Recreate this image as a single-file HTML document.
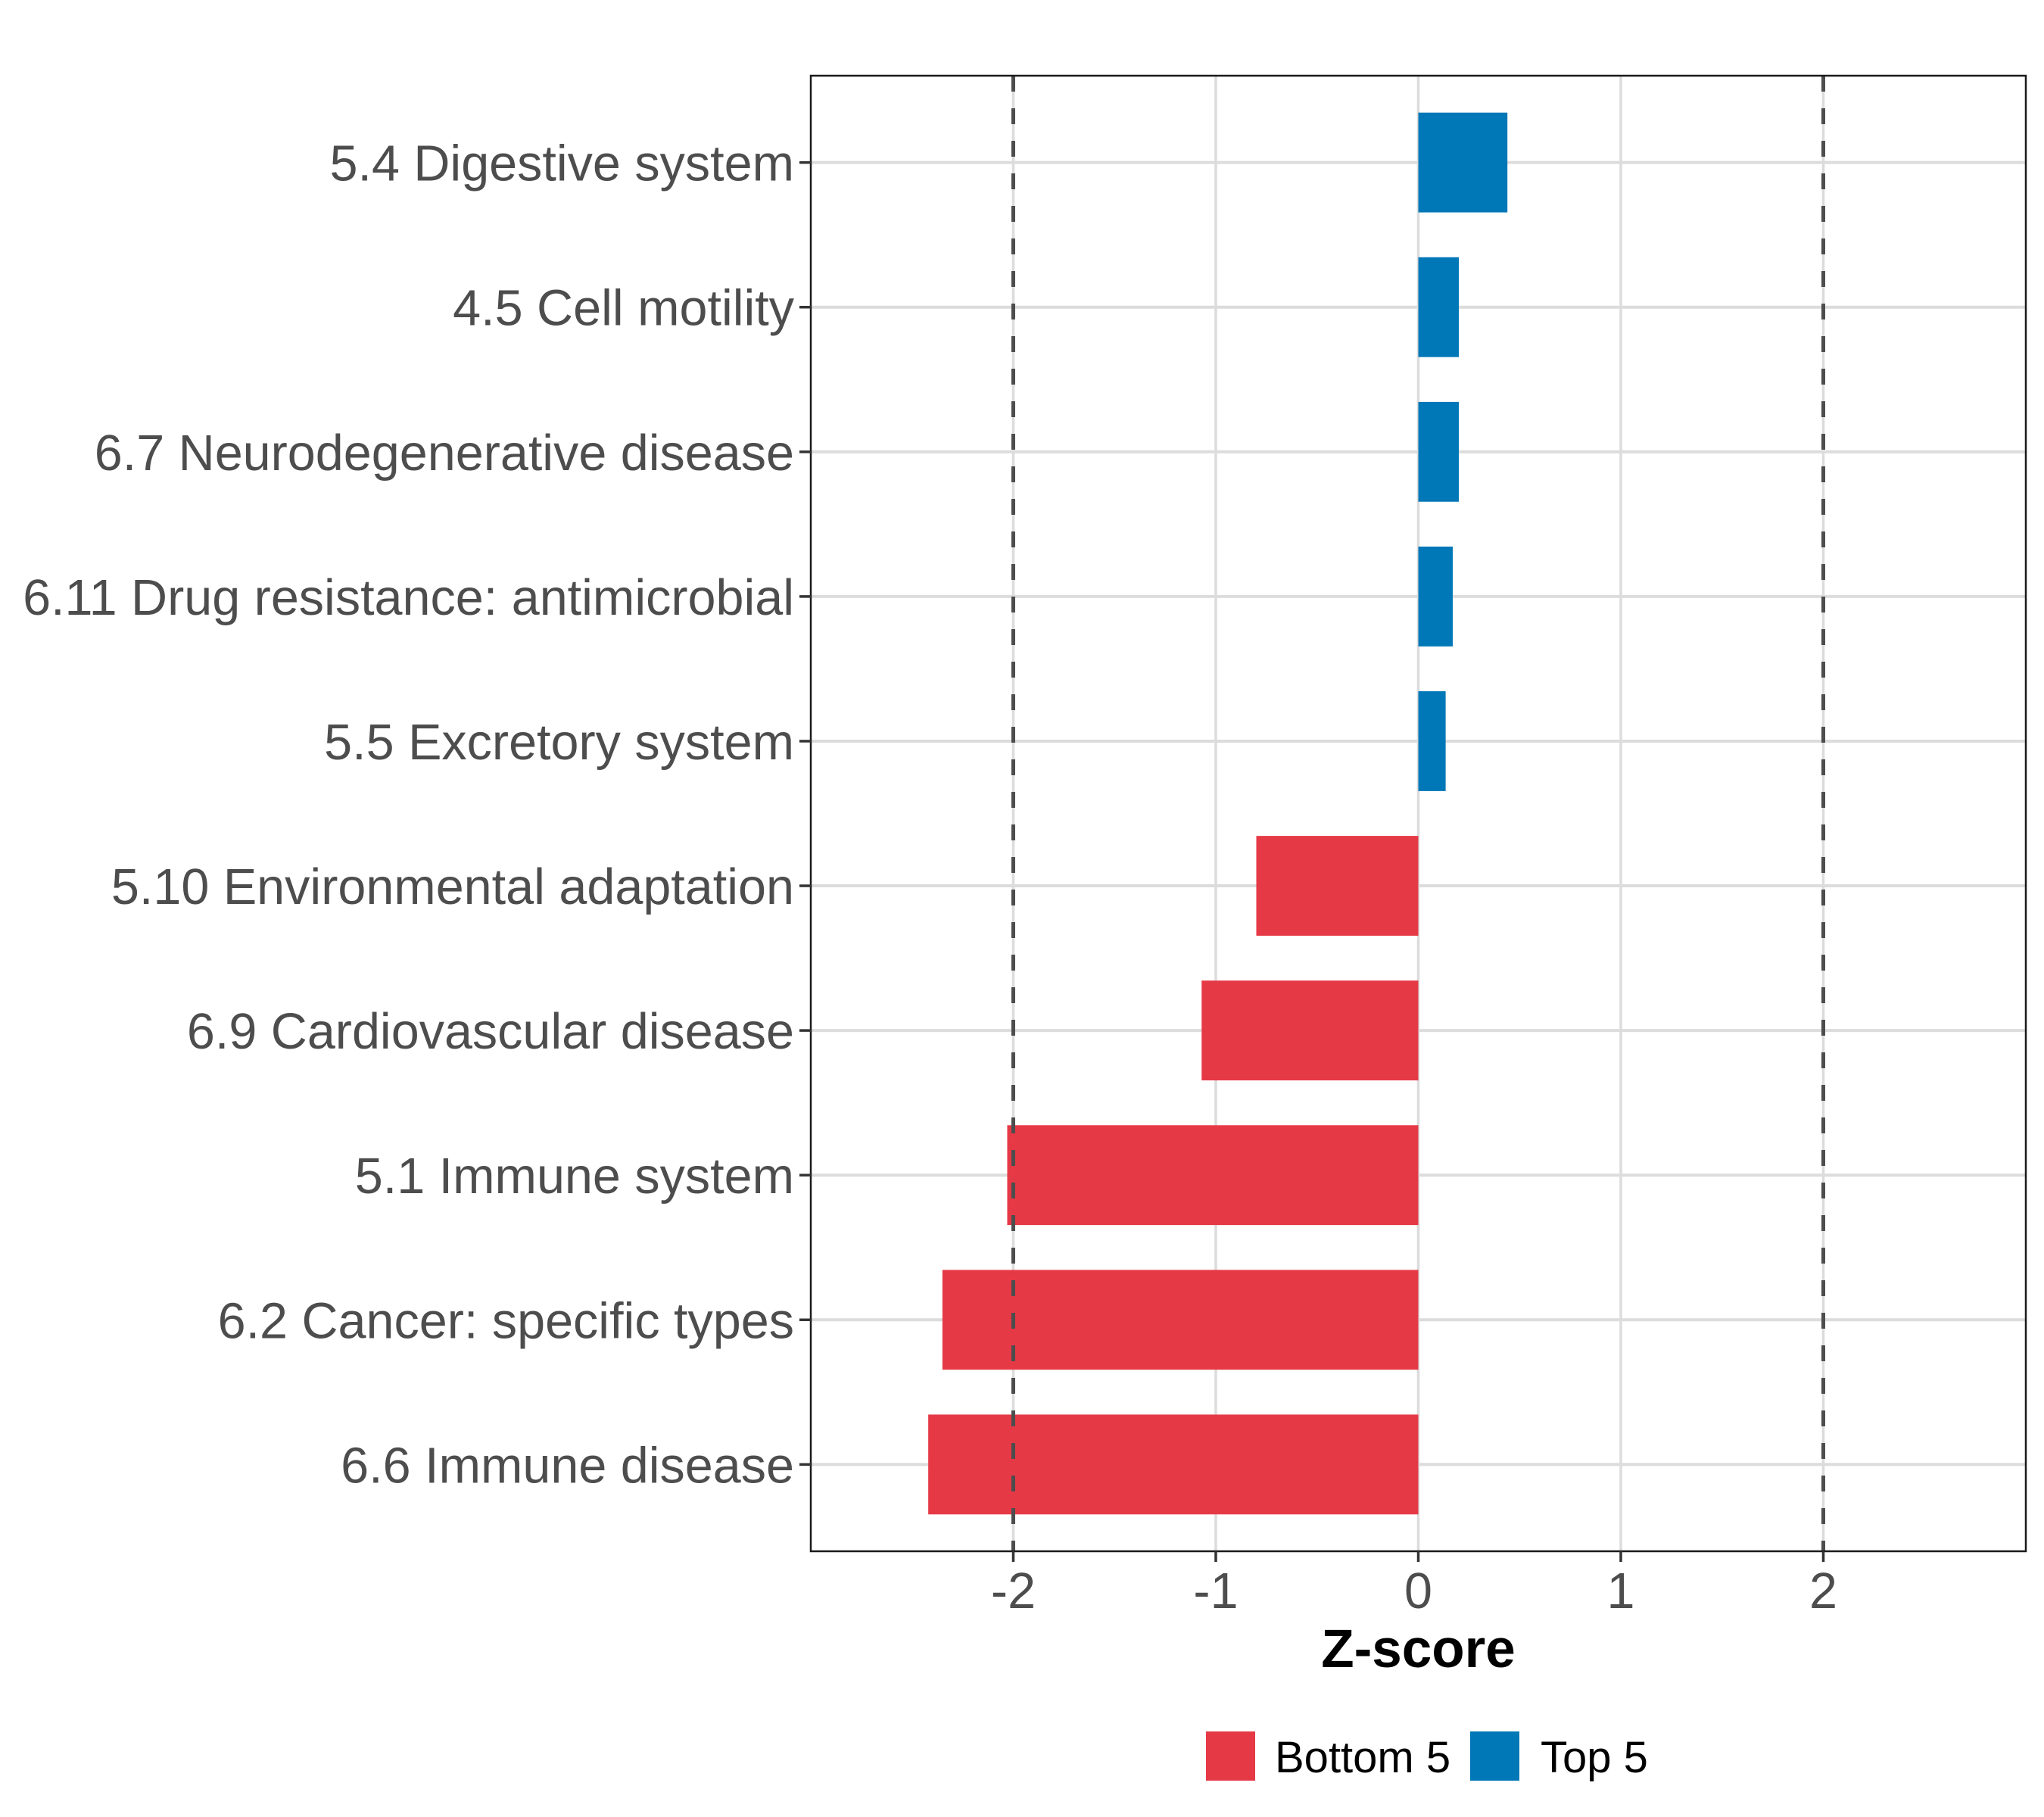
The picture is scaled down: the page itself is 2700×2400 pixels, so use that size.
<!DOCTYPE html>
<html><head><meta charset="utf-8"><style>
html,body{margin:0;padding:0;background:#fff;}
svg{display:block;font-family:"Liberation Sans",Arial,sans-serif;}
</style></head><body>
<svg id="chart" width="2700" height="2400" viewBox="0 0 2700 2400" xmlns="http://www.w3.org/2000/svg">
<rect x="0" y="0" width="2700" height="2400" fill="#fff"/>
<g id="grid"></g>
<g id="bars"></g>
<g id="refs"></g>
<g id="axes"></g>
</svg>
<script>
const categories = ["5.4 Digestive system","4.5 Cell motility","6.7 Neurodegenerative disease","6.11 Drug resistance: antimicrobial","5.5 Excretory system","5.10 Environmental adaptation","6.9 Cardiovascular disease","5.1 Immune system","6.2 Cancer: specific types","6.6 Immune disease"];
const values = [0.44,0.20,0.20,0.17,0.135,-0.80,-1.07,-2.03,-2.35,-2.42];
const groups = ["Top 5","Top 5","Top 5","Top 5","Top 5","Bottom 5","Bottom 5","Bottom 5","Bottom 5","Bottom 5"];
const xTicks = [-2,-1,0,1,2];
const refLines = [-2,2];
const legendLabels = ["Bottom 5","Top 5"];
const colors = {"Bottom 5":"#E63946","Top 5":"#0077B6"};

const NS="http://www.w3.org/2000/svg";
const L=1071,R=2676,T=100,B=2049;
const xMin=-3,xMax=3;
const xs=v=>L+(v-xMin)/(xMax-xMin)*(R-L);
const n=categories.length;
const step=(B-T)/(n-1+1.2);
const ys=i=>T+step*(0.6+i);
function mk(tag,attrs,parent){const e=document.createElementNS(NS,tag);for(const k in attrs)e.setAttribute(k,attrs[k]);parent.appendChild(e);return e;}
const grid=document.getElementById('grid'),bars=document.getElementById('bars'),refs=document.getElementById('refs'),axes=document.getElementById('axes');

xTicks.forEach(t=>{
  const g=mk('line',{x1:xs(t),x2:xs(t),y1:T,y2:B,stroke:'#dcdcdc','stroke-width':3.5},grid);
  
  
});
categories.forEach((c,i)=>{
  const g=mk('line',{x1:L,x2:R,y1:ys(i),y2:ys(i),stroke:'#dcdcdc','stroke-width':4},grid);
  
  
});
const bh=step*0.69;
values.forEach((v,i)=>{
  const x0=xs(Math.min(0,v)),x1=xs(Math.max(0,v));
  const r=mk('rect',{x:x0,y:ys(i)-bh/2,width:x1-x0,height:bh,fill:colors[groups[i]]},bars);
  
  
});
refLines.forEach(v=>{
  const l=mk('line',{x1:xs(v),x2:xs(v),y1:T,y2:B,stroke:'#4d4d4d','stroke-width':5,'stroke-dasharray':'21 22'},refs);
  
  
});
const frame=mk('rect',{x:L,y:T,width:R-L,height:B-T,fill:'none',stroke:'#1a1a1a','stroke-width':2.5},axes);


categories.forEach((c,i)=>{
  const tk=mk('line',{x1:L-15,x2:L,y1:ys(i),y2:ys(i),stroke:'#333','stroke-width':3.5},axes);
  
  
  const t=mk('text',{x:L-22,y:ys(i)+24,'text-anchor':'end','font-size':66.5,fill:'#4d4d4d'},axes);
  t.textContent=c;
  
  
});
xTicks.forEach(v=>{
  const tk=mk('line',{x1:xs(v),x2:xs(v),y1:B,y2:B+14,stroke:'#333','stroke-width':3.5},axes);
  
  
  const t=mk('text',{x:xs(v),y:2124,'text-anchor':'middle','font-size':66.5,fill:'#4d4d4d'},axes);
  t.textContent=v<0?'-'+Math.abs(v):String(v);
  
  
});
const xt=mk('text',{x:xs(0),y:2202,'text-anchor':'middle','font-size':71,'font-weight':'bold',fill:'#000'},axes);
xt.textContent='Z-score';


const lx=[1593,1942],tx=[1684,2035];
legendLabels.forEach((lab,i)=>{
  const r=mk('rect',{x:lx[i],y:2287,width:65,height:65,fill:colors[lab]},axes);
  
  
  const t=mk('text',{x:tx[i],y:2341,'font-size':58,fill:'#000'},axes);
  t.textContent=lab;
  
  
});
</script>
</body></html>
